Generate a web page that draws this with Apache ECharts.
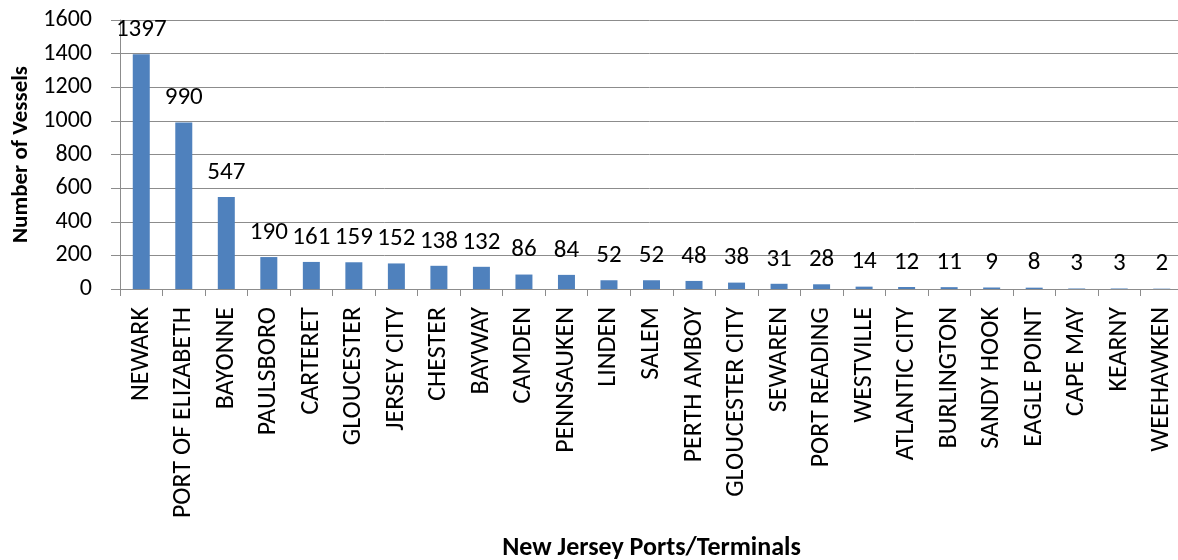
<!DOCTYPE html>
<html>
<head>
<meta charset="utf-8">
<script src="https://cdn.jsdelivr.net/npm/echarts@6/dist/echarts.min.js"></script>
<style>
  html, body { margin: 0; padding: 0; background: #fff; }
  #chart { width: 1178px; height: 560px; }
</style>
</head>
<body>
<div id="chart"></div>
<script>
// Vessel counts by New Jersey port / terminal
const ports = [
  'NEWARK', 'PORT OF ELIZABETH', 'BAYONNE', 'PAULSBORO', 'CARTERET',
  'GLOUCESTER', 'JERSEY CITY', 'CHESTER', 'BAYWAY', 'CAMDEN',
  'PENNSAUKEN', 'LINDEN', 'SALEM', 'PERTH AMBOY', 'GLOUCESTER CITY',
  'SEWAREN', 'PORT READING', 'WESTVILLE', 'ATLANTIC CITY', 'BURLINGTON',
  'SANDY HOOK', 'EAGLE POINT', 'CAPE MAY', 'KEARNY', 'WEEHAWKEN'
];
const vessels = [
  1397, 990, 547, 190, 161,
  159, 152, 138, 132, 86,
  84, 52, 52, 48, 38,
  31, 28, 14, 12, 11,
  9, 8, 3, 3, 2
];
const yMin = 0;
const yMax = 1600;
const yStep = 200;

const FONT = "Carlito, 'Liberation Sans', Arial, sans-serif";
const GRID_GRAY = '#8c8c8c';

const chart = echarts.init(document.getElementById('chart'), null, { renderer: 'canvas' });

chart.setOption({
  animation: false,
  backgroundColor: '#ffffff',
  textStyle: { fontFamily: FONT, color: '#000' },
  grid: {
    left: 120, right: -5, top: 20, bottom: 271,
    containLabel: false,
    outerBoundsMode: 'none'
  },
  xAxis: {
    type: 'category',
    data: ports,
    boundaryGap: true,
    name: 'New Jersey Ports/Terminals',
    nameLocation: 'middle',
    nameGap: 246,
    nameTextStyle: { fontFamily: FONT, fontSize: 26, fontWeight: 'bold', color: '#000' },
    axisLine: { show: true, lineStyle: { color: GRID_GRAY, width: 1 } },
    axisTick: { show: true, length: 7, alignWithLabel: false, lineStyle: { color: GRID_GRAY } },
    axisLabel: {
      rotate: 90,
      interval: 0,
      margin: 18,
      fontFamily: FONT,
      fontSize: 26,
      color: '#000'
    },
    splitLine: { show: false }
  },
  yAxis: {
    type: 'value',
    min: yMin,
    max: yMax,
    interval: yStep,
    name: 'Number of Vessels',
    nameLocation: 'middle',
    nameGap: 86,
    nameRotate: 90,
    nameTextStyle: { fontFamily: FONT, fontSize: 23, fontWeight: 'bold', color: '#000' },
    axisLine: { show: true, lineStyle: { color: GRID_GRAY, width: 1 } },
    axisTick: { show: true, length: 9, lineStyle: { color: GRID_GRAY } },
    axisLabel: {
      margin: 28,
      fontFamily: FONT,
      fontSize: 24,
      color: '#000',
      formatter: (v) => String(v)
    },
    splitLine: { show: true, lineStyle: { color: GRID_GRAY, width: 1 } }
  },
  series: [{
    type: 'bar',
    data: vessels,
    barWidth: 17,
    itemStyle: { color: '#4f81bd' },
    label: {
      show: true,
      position: 'top',
      distance: 12,
      fontFamily: FONT,
      fontSize: 25,
      color: '#000'
    }
  }]
});
</script>
</body>
</html>
